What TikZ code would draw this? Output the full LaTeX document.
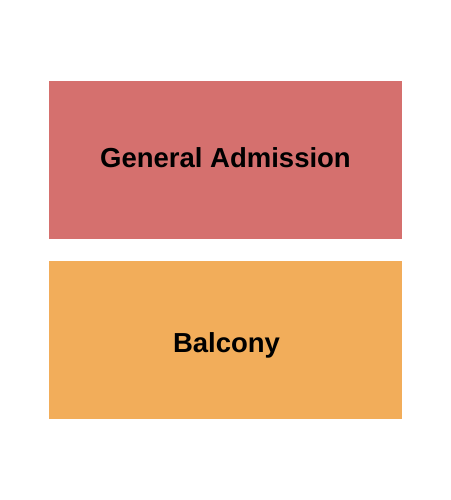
\documentclass[tikz,border=0pt]{standalone}
\usepackage{fontspec}
\setmainfont{Liberation Sans}
\definecolor{gared}{HTML}{D5706E}
\definecolor{balc}{HTML}{F2AD5A}
\begin{document}
\begin{tikzpicture}[x=1pt,y=-1pt,
  section/.style={inner sep=0pt, outer sep=0pt},
  label/.style={font=\fontsize{27.5}{33}\selectfont\bfseries, text=black, anchor=base, inner sep=0pt}]
\useasboundingbox[fill=white] (0,0) rectangle (450,500);
\fill[gared] (49,81) rectangle (402,239);
\node[section] (ga) at (225.5,160) {};
\fill[balc] (49,261) rectangle (402,419);
\node[section] (bal) at (225.5,340) {};
\node[label] (galabel) at (225.5,167.7) {General Admission};
\node[label] (ballabel) at (226.5,352.5) {Balcony};
\end{tikzpicture}
\end{document}
